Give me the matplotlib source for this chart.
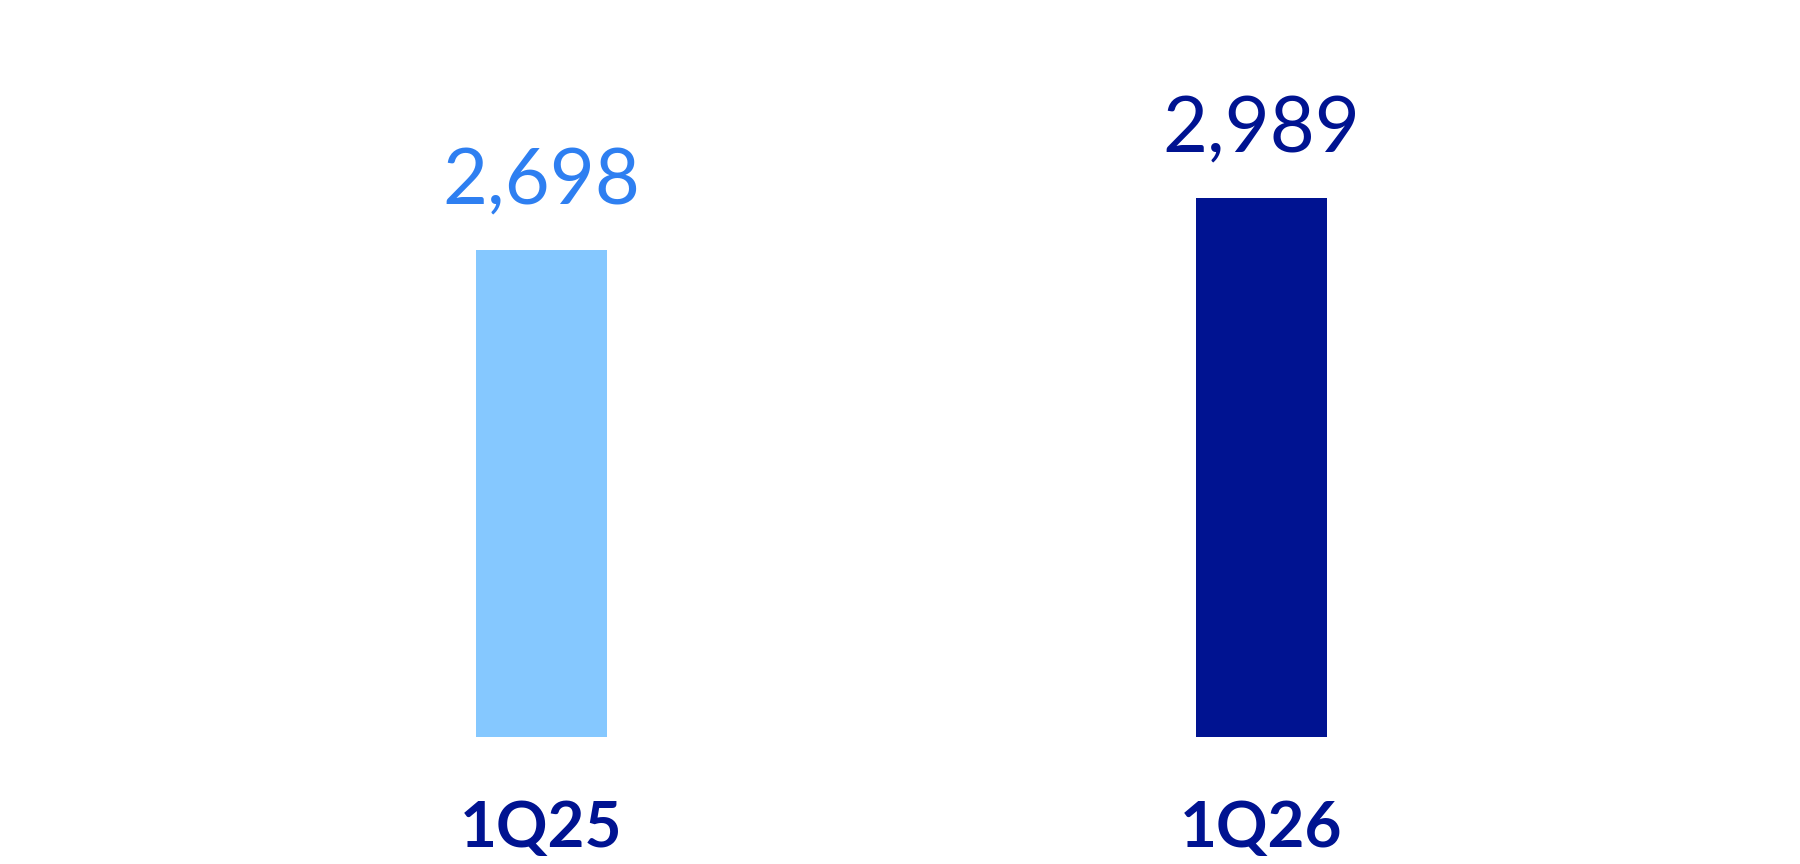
import matplotlib.pyplot as plt

quarters = ["1Q25", "1Q26"]
values = [2698, 2989]
bar_colors = ["#85C8FF", "#001391"]
label_colors = ["#2E7FF1", "#001391"]

plt.rcParams['font.family'] = ['Lato', 'DejaVu Sans']

fig = plt.figure(figsize=(18, 8.64), dpi=100)
ax = fig.add_axes([0, 0, 1, 1])

# pixel layout: bar centres 541.5 / 1261.5, baseline 737px from top
px_x = 720.0
px_y = 539.5 / values[1]
xs = range(len(quarters))
ax.bar(xs, values, width=131 / px_x, color=bar_colors)
ax.set_xlim(-541.5 / px_x, 1 + (1800 - 1261.5) / px_x)
ax.set_ylim(-127 / px_y, 737 / px_y)

for x, v, c, q in zip(xs, values, label_colors, quarters):
    ax.annotate(f"{v:,}", (x, v), xytext=(0, 45.5 * 0.72), textcoords="offset points",
                ha="center", va="baseline", fontsize=56, color=c)
    ax.annotate(q, (x, 0), xytext=(0, -110 * 0.72), textcoords="offset points",
                ha="center", va="baseline", fontsize=46, fontweight="bold", color="#001391")

ax.axis("off")
fig.savefig("out.png", dpi=100)
